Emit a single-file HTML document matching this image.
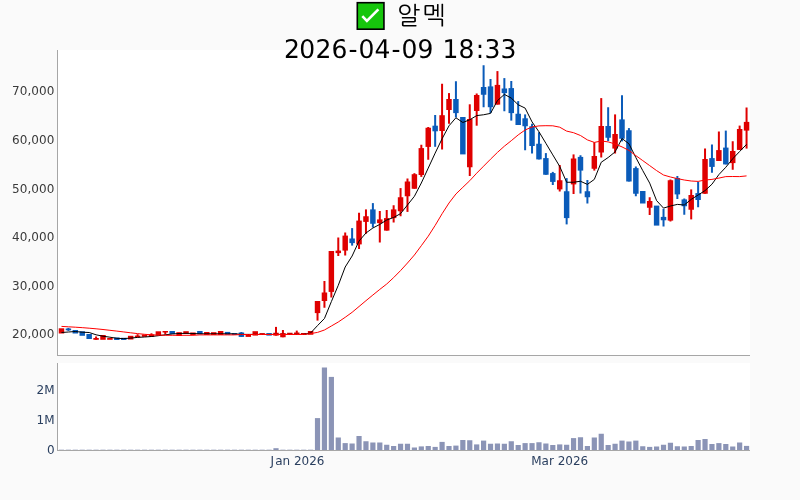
<!DOCTYPE html>
<html lang="ko"><head><meta charset="utf-8"><title>알멕</title>
<style>
html,body{margin:0;padding:0;background:#fafafa;overflow:hidden}
svg{display:block}
text{font-family:"DejaVu Sans","Liberation Sans","Noto Sans CJK KR",sans-serif}
.t{font-size:25px;fill:#000;text-rendering:geometricPrecision}
.k{font-size:24.6px;fill:#000;font-family:"NanumGothic","Noto Sans CJK KR","DejaVu Sans",sans-serif}
.yl{font-size:12px;fill:#3a3a3a;text-anchor:end;letter-spacing:0.12px}
.vl{font-size:12px;fill:#2a3f5f;text-anchor:end}
.xl{font-size:12px;fill:#2a3f5f;text-anchor:middle}
.xs{font-size:12px;fill:#2a3f5f}
</style></head><body>
<svg width="800" height="500" viewBox="0 0 800 500">
<rect width="800" height="500" fill="#fafafa"/>
<rect x="58" y="50" width="692" height="305" fill="#fff"/>
<rect x="58" y="363" width="692" height="87" fill="#fff"/>

<g fill="#8b94b6">
<rect x="58.88" y="449.7" width="5.2" height="0.3"/>
<rect x="65.8" y="449.7" width="5.2" height="0.3"/>
<rect x="72.72" y="449.7" width="5.2" height="0.3"/>
<rect x="79.64" y="449.7" width="5.2" height="0.3"/>
<rect x="86.56" y="449.7" width="5.2" height="0.3"/>
<rect x="93.48" y="449.7" width="5.2" height="0.3"/>
<rect x="100.4" y="449.7" width="5.2" height="0.3"/>
<rect x="107.32" y="449.7" width="5.2" height="0.3"/>
<rect x="114.24" y="449.7" width="5.2" height="0.3"/>
<rect x="121.16" y="449.7" width="5.2" height="0.3"/>
<rect x="128.08" y="449.7" width="5.2" height="0.3"/>
<rect x="135" y="449.7" width="5.2" height="0.3"/>
<rect x="141.92" y="449.7" width="5.2" height="0.3"/>
<rect x="148.84" y="449.7" width="5.2" height="0.3"/>
<rect x="155.76" y="449.7" width="5.2" height="0.3"/>
<rect x="162.68" y="449.7" width="5.2" height="0.3"/>
<rect x="169.6" y="449.7" width="5.2" height="0.3"/>
<rect x="176.52" y="449.7" width="5.2" height="0.3"/>
<rect x="183.44" y="449.7" width="5.2" height="0.3"/>
<rect x="190.36" y="449.7" width="5.2" height="0.3"/>
<rect x="197.28" y="449.7" width="5.2" height="0.3"/>
<rect x="204.2" y="449.7" width="5.2" height="0.3"/>
<rect x="211.12" y="449.7" width="5.2" height="0.3"/>
<rect x="218.04" y="449.7" width="5.2" height="0.3"/>
<rect x="224.96" y="449.7" width="5.2" height="0.3"/>
<rect x="231.88" y="449.7" width="5.2" height="0.3"/>
<rect x="238.8" y="449.7" width="5.2" height="0.3"/>
<rect x="245.72" y="449.7" width="5.2" height="0.3"/>
<rect x="252.64" y="449.7" width="5.2" height="0.3"/>
<rect x="259.56" y="449.7" width="5.2" height="0.3"/>
<rect x="266.48" y="449.7" width="5.2" height="0.3"/>
<rect x="273.4" y="448.2" width="5.2" height="1.8"/>
<rect x="280.32" y="449.7" width="5.2" height="0.3"/>
<rect x="287.24" y="449.7" width="5.2" height="0.3"/>
<rect x="294.16" y="449.7" width="5.2" height="0.3"/>
<rect x="301.08" y="449.7" width="5.2" height="0.3"/>
<rect x="308" y="449.7" width="5.2" height="0.3"/>
<rect x="314.92" y="418.1" width="5.2" height="31.9"/>
<rect x="321.84" y="367.5" width="5.2" height="82.5"/>
<rect x="328.76" y="376.9" width="5.2" height="73.1"/>
<rect x="335.68" y="437.5" width="5.2" height="12.5"/>
<rect x="342.6" y="443.1" width="5.2" height="6.9"/>
<rect x="349.52" y="443.5" width="5.2" height="6.5"/>
<rect x="356.44" y="436" width="5.2" height="14"/>
<rect x="363.36" y="441.25" width="5.2" height="8.75"/>
<rect x="370.28" y="442.5" width="5.2" height="7.5"/>
<rect x="377.2" y="442.5" width="5.2" height="7.5"/>
<rect x="384.12" y="444.75" width="5.2" height="5.25"/>
<rect x="391.04" y="446" width="5.2" height="4"/>
<rect x="397.96" y="443.75" width="5.2" height="6.25"/>
<rect x="404.88" y="443.75" width="5.2" height="6.25"/>
<rect x="411.8" y="447.5" width="5.2" height="2.5"/>
<rect x="418.72" y="446.4" width="5.2" height="3.6"/>
<rect x="425.64" y="446" width="5.2" height="4"/>
<rect x="432.56" y="446.9" width="5.2" height="3.1"/>
<rect x="439.48" y="441.9" width="5.2" height="8.1"/>
<rect x="446.4" y="446" width="5.2" height="4"/>
<rect x="453.32" y="445.6" width="5.2" height="4.4"/>
<rect x="460.24" y="440" width="5.2" height="10"/>
<rect x="467.16" y="440.25" width="5.2" height="9.75"/>
<rect x="474.08" y="444.4" width="5.2" height="5.6"/>
<rect x="481" y="440.6" width="5.2" height="9.4"/>
<rect x="487.92" y="443.75" width="5.2" height="6.25"/>
<rect x="494.84" y="443.5" width="5.2" height="6.5"/>
<rect x="501.76" y="443.75" width="5.2" height="6.25"/>
<rect x="508.68" y="441.25" width="5.2" height="8.75"/>
<rect x="515.6" y="445" width="5.2" height="5"/>
<rect x="522.52" y="443.1" width="5.2" height="6.9"/>
<rect x="529.44" y="443.1" width="5.2" height="6.9"/>
<rect x="536.36" y="442.25" width="5.2" height="7.75"/>
<rect x="543.28" y="443.5" width="5.2" height="6.5"/>
<rect x="550.2" y="445" width="5.2" height="5"/>
<rect x="557.12" y="444.4" width="5.2" height="5.6"/>
<rect x="564.04" y="444.75" width="5.2" height="5.25"/>
<rect x="570.96" y="438.1" width="5.2" height="11.9"/>
<rect x="577.88" y="437.25" width="5.2" height="12.75"/>
<rect x="584.8" y="446" width="5.2" height="4"/>
<rect x="591.72" y="437.5" width="5.2" height="12.5"/>
<rect x="598.64" y="433.75" width="5.2" height="16.25"/>
<rect x="605.56" y="445" width="5.2" height="5"/>
<rect x="612.48" y="443.75" width="5.2" height="6.25"/>
<rect x="619.4" y="440.6" width="5.2" height="9.4"/>
<rect x="626.32" y="441.5" width="5.2" height="8.5"/>
<rect x="633.24" y="440.6" width="5.2" height="9.4"/>
<rect x="640.16" y="446.25" width="5.2" height="3.75"/>
<rect x="647.08" y="446.9" width="5.2" height="3.1"/>
<rect x="654" y="446.5" width="5.2" height="3.5"/>
<rect x="660.92" y="444.75" width="5.2" height="5.25"/>
<rect x="667.84" y="442.75" width="5.2" height="7.25"/>
<rect x="674.76" y="446.25" width="5.2" height="3.75"/>
<rect x="681.68" y="446.5" width="5.2" height="3.5"/>
<rect x="688.6" y="446" width="5.2" height="4"/>
<rect x="695.52" y="440" width="5.2" height="10"/>
<rect x="702.44" y="439" width="5.2" height="11"/>
<rect x="709.36" y="444" width="5.2" height="6"/>
<rect x="716.28" y="443.1" width="5.2" height="6.9"/>
<rect x="723.2" y="444" width="5.2" height="6"/>
<rect x="730.12" y="446.5" width="5.2" height="3.5"/>
<rect x="737.04" y="442.5" width="5.2" height="7.5"/>
<rect x="743.96" y="445.9" width="5.2" height="4.1"/>
</g>
<g fill="#df0000" stroke="none">
<rect x="58.75" y="328.3" width="5.46" height="5.2"/>
<rect x="95.08" y="336.5" width="2" height="3.3"/>
<rect x="93.35" y="338" width="5.46" height="1.8"/>
<rect x="100.27" y="335" width="5.46" height="4.8"/>
<rect x="107.19" y="338" width="5.46" height="1.8"/>
<rect x="127.95" y="335.8" width="5.46" height="3.7"/>
<rect x="136.6" y="334.2" width="2" height="3.1"/>
<rect x="134.87" y="335.6" width="5.46" height="1.7"/>
<rect x="141.79" y="334.5" width="5.46" height="2.3"/>
<rect x="150.44" y="333.3" width="2" height="3.5"/>
<rect x="148.71" y="334.4" width="5.46" height="2.4"/>
<rect x="155.63" y="331.3" width="5.46" height="4.2"/>
<rect x="164.28" y="331" width="2" height="3.5"/>
<rect x="162.55" y="331" width="5.46" height="1.5"/>
<rect x="176.39" y="332.2" width="5.46" height="3.8"/>
<rect x="183.31" y="331.2" width="5.46" height="2.8"/>
<rect x="190.23" y="332.5" width="5.46" height="2.5"/>
<rect x="204.07" y="332" width="5.46" height="3"/>
<rect x="210.99" y="332.2" width="5.46" height="2.8"/>
<rect x="217.91" y="331" width="5.46" height="4"/>
<rect x="245.59" y="334" width="5.46" height="2.9"/>
<rect x="252.51" y="331.2" width="5.46" height="4.4"/>
<rect x="259.43" y="333.1" width="5.46" height="1.9"/>
<rect x="275" y="326.9" width="2" height="8.7"/>
<rect x="273.27" y="332.75" width="5.46" height="2.85"/>
<rect x="281.92" y="330" width="2" height="7.25"/>
<rect x="280.19" y="333.1" width="5.46" height="4.15"/>
<rect x="287.11" y="332.75" width="5.46" height="2"/>
<rect x="295.76" y="330.6" width="2" height="3.8"/>
<rect x="294.03" y="332.5" width="5.46" height="1.9"/>
<rect x="300.95" y="333" width="5.46" height="2"/>
<rect x="307.87" y="331" width="5.46" height="3.75"/>
<rect x="316.52" y="301" width="2" height="19.6"/>
<rect x="314.79" y="301" width="5.46" height="12.1"/>
<rect x="323.44" y="281" width="2" height="26.75"/>
<rect x="321.71" y="292.5" width="5.46" height="8.5"/>
<rect x="330.36" y="251" width="2" height="46.5"/>
<rect x="328.63" y="251" width="5.46" height="40.9"/>
<rect x="337.28" y="237.5" width="2" height="18.5"/>
<rect x="335.55" y="250.6" width="5.46" height="2.5"/>
<rect x="344.2" y="232.5" width="2" height="23"/>
<rect x="342.47" y="235.6" width="5.46" height="15"/>
<rect x="358.04" y="212.75" width="2" height="36.25"/>
<rect x="356.31" y="220.6" width="5.46" height="23.8"/>
<rect x="364.96" y="209.4" width="2" height="24.35"/>
<rect x="363.23" y="216.25" width="5.46" height="5.65"/>
<rect x="378.8" y="211" width="2" height="31.5"/>
<rect x="377.07" y="219.4" width="5.46" height="3.7"/>
<rect x="385.72" y="210" width="2" height="20.6"/>
<rect x="383.99" y="218.1" width="5.46" height="12.5"/>
<rect x="392.64" y="205.25" width="2" height="17.25"/>
<rect x="390.91" y="209.4" width="5.46" height="8.7"/>
<rect x="399.56" y="188.1" width="2" height="28.15"/>
<rect x="397.83" y="197.25" width="5.46" height="14"/>
<rect x="406.48" y="178.5" width="2" height="33.4"/>
<rect x="404.75" y="181.5" width="5.46" height="14.75"/>
<rect x="413.4" y="173.2" width="2" height="15.55"/>
<rect x="411.67" y="174.2" width="5.46" height="14.55"/>
<rect x="420.32" y="144.75" width="2" height="32.15"/>
<rect x="418.59" y="148.1" width="5.46" height="26.9"/>
<rect x="427.24" y="127" width="2" height="32.75"/>
<rect x="425.51" y="127.75" width="5.46" height="19.15"/>
<rect x="441.08" y="83.75" width="2" height="65.75"/>
<rect x="439.35" y="115.2" width="5.46" height="15.8"/>
<rect x="448" y="93.1" width="2" height="30.65"/>
<rect x="446.27" y="99" width="5.46" height="11"/>
<rect x="468.76" y="104.3" width="2" height="71.7"/>
<rect x="467.03" y="119" width="5.46" height="48.25"/>
<rect x="475.68" y="93.5" width="2" height="32.2"/>
<rect x="473.95" y="95" width="5.46" height="16"/>
<rect x="496.44" y="71.1" width="2" height="33.5"/>
<rect x="494.71" y="84.9" width="5.46" height="19.7"/>
<rect x="558.72" y="165" width="2" height="26.5"/>
<rect x="556.99" y="180.25" width="5.46" height="9.15"/>
<rect x="572.56" y="154.4" width="2" height="39.6"/>
<rect x="570.83" y="158.5" width="5.46" height="25.9"/>
<rect x="593.32" y="142.25" width="2" height="28.35"/>
<rect x="591.59" y="156" width="5.46" height="12.75"/>
<rect x="600.24" y="98.1" width="2" height="59.4"/>
<rect x="598.51" y="126" width="5.46" height="26.5"/>
<rect x="614.08" y="114.4" width="2" height="39.1"/>
<rect x="612.35" y="134" width="5.46" height="14.6"/>
<rect x="648.68" y="197.25" width="2" height="17.75"/>
<rect x="646.95" y="201" width="5.46" height="6.75"/>
<rect x="669.44" y="179.5" width="2" height="42"/>
<rect x="667.71" y="180.25" width="5.46" height="40.35"/>
<rect x="690.2" y="189.4" width="2" height="30"/>
<rect x="688.47" y="195" width="5.46" height="14.75"/>
<rect x="704.04" y="148.5" width="2" height="45.25"/>
<rect x="702.31" y="159" width="5.46" height="34.75"/>
<rect x="717.88" y="131.5" width="2" height="29.5"/>
<rect x="716.15" y="150.1" width="5.46" height="10.9"/>
<rect x="731.72" y="141.25" width="2" height="28.5"/>
<rect x="729.99" y="151" width="5.46" height="12.1"/>
<rect x="738.64" y="125.6" width="2" height="24.3"/>
<rect x="736.91" y="129" width="5.46" height="20.9"/>
<rect x="745.56" y="107.5" width="2" height="41.1"/>
<rect x="743.83" y="121.9" width="5.46" height="8.7"/>
</g>
<g fill="#0a5bb9" stroke="none">
<rect x="67.4" y="327.9" width="2" height="3"/>
<rect x="65.67" y="328.5" width="5.46" height="1.8"/>
<rect x="72.59" y="330" width="5.46" height="3.5"/>
<rect x="79.51" y="331.3" width="5.46" height="4.5"/>
<rect x="86.43" y="334" width="5.46" height="5"/>
<rect x="114.11" y="337.5" width="5.46" height="2.5"/>
<rect x="121.03" y="337.8" width="5.46" height="2.2"/>
<rect x="169.47" y="331" width="5.46" height="3"/>
<rect x="197.15" y="331" width="5.46" height="3.2"/>
<rect x="224.83" y="331.9" width="5.46" height="2.9"/>
<rect x="231.75" y="333.1" width="5.46" height="1.9"/>
<rect x="240.4" y="332" width="2" height="4.9"/>
<rect x="238.67" y="332.5" width="5.46" height="4.4"/>
<rect x="266.35" y="333.1" width="5.46" height="2.5"/>
<rect x="351.12" y="228.1" width="2" height="17.5"/>
<rect x="349.39" y="238.5" width="5.46" height="4.6"/>
<rect x="371.88" y="203.1" width="2" height="24.4"/>
<rect x="370.15" y="209.4" width="5.46" height="14.35"/>
<rect x="434.16" y="115" width="2" height="31.8"/>
<rect x="432.43" y="125.7" width="5.46" height="5.6"/>
<rect x="454.92" y="81.25" width="2" height="36.25"/>
<rect x="453.19" y="99" width="5.46" height="14.1"/>
<rect x="460.11" y="117" width="5.46" height="37.4"/>
<rect x="482.6" y="65.25" width="2" height="42"/>
<rect x="480.87" y="87" width="5.46" height="7.75"/>
<rect x="489.52" y="79" width="2" height="34.1"/>
<rect x="487.79" y="86.4" width="5.46" height="20.8"/>
<rect x="503.36" y="78.1" width="2" height="33.15"/>
<rect x="501.63" y="88.5" width="5.46" height="4.6"/>
<rect x="510.28" y="81" width="2" height="39.6"/>
<rect x="508.55" y="88.1" width="5.46" height="25"/>
<rect x="517.2" y="101.1" width="2" height="23.9"/>
<rect x="515.47" y="113.75" width="5.46" height="11.25"/>
<rect x="524.12" y="114.4" width="2" height="35.85"/>
<rect x="522.39" y="118.3" width="5.46" height="7.95"/>
<rect x="531.04" y="123.75" width="2" height="29.75"/>
<rect x="529.31" y="126.25" width="5.46" height="19.75"/>
<rect x="537.96" y="132.25" width="2" height="27.15"/>
<rect x="536.23" y="143.75" width="5.46" height="15.65"/>
<rect x="544.88" y="153.1" width="2" height="21.65"/>
<rect x="543.15" y="158.1" width="5.46" height="16.65"/>
<rect x="551.8" y="171.9" width="2" height="13.1"/>
<rect x="550.07" y="173.1" width="5.46" height="8.8"/>
<rect x="565.64" y="178.1" width="2" height="46.3"/>
<rect x="563.91" y="191.25" width="5.46" height="26.85"/>
<rect x="579.48" y="155.25" width="2" height="38.25"/>
<rect x="577.75" y="156.9" width="5.46" height="13.7"/>
<rect x="586.4" y="180" width="2" height="23.5"/>
<rect x="584.67" y="191.25" width="5.46" height="6"/>
<rect x="607.16" y="107.25" width="2" height="33.75"/>
<rect x="605.43" y="126" width="5.46" height="11.75"/>
<rect x="621" y="95.25" width="2" height="46.15"/>
<rect x="619.27" y="119.4" width="5.46" height="19.35"/>
<rect x="627.92" y="128.1" width="2" height="53.4"/>
<rect x="626.19" y="130.25" width="5.46" height="51.25"/>
<rect x="634.84" y="166.5" width="2" height="29.75"/>
<rect x="633.11" y="168.1" width="5.46" height="25.65"/>
<rect x="640.03" y="191" width="5.46" height="12.5"/>
<rect x="653.87" y="205.6" width="5.46" height="20"/>
<rect x="662.52" y="208.75" width="2" height="17.75"/>
<rect x="660.79" y="216.9" width="5.46" height="3.35"/>
<rect x="676.36" y="176" width="2" height="23"/>
<rect x="674.63" y="178.1" width="5.46" height="16.3"/>
<rect x="683.28" y="198.5" width="2" height="16.25"/>
<rect x="681.55" y="199.4" width="5.46" height="6.85"/>
<rect x="697.12" y="181.9" width="2" height="25.35"/>
<rect x="695.39" y="193.1" width="5.46" height="6.9"/>
<rect x="710.96" y="144.5" width="2" height="28.25"/>
<rect x="709.23" y="158.1" width="5.46" height="8.8"/>
<rect x="724.8" y="130.6" width="2" height="33.8"/>
<rect x="723.07" y="147.6" width="5.46" height="16.8"/>
</g>
<path d="M61.48,332.5 L68.4,332 L75.32,331.5 L82.24,332.2 L89.16,332.5 L96.08,334.8 L103,336.2 L109.92,337.2 L116.84,338.3 L123.76,338.6 L130.68,338.1 L137.6,337.4 L144.52,337 L151.44,336.5 L158.36,335.7 L165.28,334.8 L172.2,334 L179.12,333.5 L186.04,333.3 L192.96,333.5 L199.88,333.8 L206.8,333.8 L213.72,333.8 L220.64,333.8 L227.56,333.8 L234.48,333.8 L241.4,334.4 L248.32,334.4 L255.24,334.4 L262.16,334.4 L269.08,334.4 L276,334.4 L282.92,334.4 L289.84,334.4 L296.76,334.4 L303.68,334.4 L310.6,333 L317.52,325.6 L324.44,318.5 L331.36,301.6 L338.28,285.3 L345.2,267 L352.12,256 L359.04,241 L365.96,233 L372.88,228 L379.8,224.4 L386.72,220 L393.64,217.5 L400.56,213.6 L407.48,205 L414.4,196.3 L421.32,183 L428.24,168.1 L435.16,153.1 L442.08,138.75 L449,125.8 L455.92,117.75 L462.84,122.5 L469.76,119.75 L476.68,115.6 L483.6,114.75 L490.52,113.4 L497.44,100.6 L504.36,94.4 L511.28,98.1 L518.2,104.75 L525.12,108.1 L532.04,121.9 L538.96,131.75 L545.88,143.3 L552.8,154.9 L559.72,166.4 L566.64,182.25 L573.56,182.25 L580.48,181.25 L587.4,184.4 L594.32,179.4 L601.24,162.25 L608.16,157.5 L615.08,151.9 L622,138.5 L628.92,143.75 L635.84,157.5 L642.76,170.6 L649.68,183.1 L656.6,200.6 L663.52,208.1 L670.44,206 L677.36,204.4 L684.28,205 L691.2,199.4 L698.12,195 L705.04,190.6 L711.96,184.2 L718.88,174.6 L725.8,167.25 L732.72,158.75 L739.64,151.5 L746.56,144.4" fill="none" stroke="#000" stroke-width="1"/>
<path d="M61.48,326.4 L68.4,326.8 L75.32,327.2 L82.24,327.65 L89.16,328.2 L96.08,328.8 L103,329.5 L109.92,330.3 L116.84,331.1 L123.76,331.95 L130.68,332.8 L137.6,333.6 L144.52,334.3 L151.44,334.8 L158.36,335.1 L165.28,335.3 L172.2,335.3 L179.12,335.3 L186.04,335.3 L192.96,335.3 L199.88,334.9 L206.8,334.9 L213.72,334.9 L220.64,334.9 L227.56,334.9 L234.48,334.9 L241.4,334.5 L248.32,334.5 L255.24,334.5 L262.16,334.5 L269.08,334.5 L276,334.5 L282.92,334.5 L289.84,334.5 L296.76,334.5 L303.68,334.5 L310.6,333.6 L317.52,332.4 L324.44,330 L331.36,326 L338.28,322 L345.2,317.3 L352.12,312.3 L359.04,306.5 L365.96,300.7 L372.88,295 L379.8,289.4 L386.72,284 L393.64,277.6 L400.56,270.6 L407.48,263 L414.4,255 L421.32,245.7 L428.24,236.2 L435.16,225.4 L442.08,213.75 L449,203 L455.92,194 L462.84,187.3 L469.76,180.7 L476.68,173.2 L483.6,166.2 L490.52,159.2 L497.44,152.4 L504.36,146.2 L511.28,140.7 L518.2,134.9 L525.12,130 L532.04,127 L538.96,125.9 L545.88,125.7 L552.8,125.8 L559.72,127.2 L566.64,131.1 L573.56,132.7 L580.48,135.5 L587.4,139.9 L594.32,142.4 L601.24,141 L608.16,141.9 L615.08,144 L622,146.9 L628.92,150.4 L635.84,155.6 L642.76,160.6 L649.68,165.6 L656.6,170.6 L663.52,175 L670.44,177 L677.36,178.6 L684.28,180 L691.2,181 L698.12,181.4 L705.04,180 L711.96,179.4 L718.88,178.1 L725.8,176.6 L732.72,176.5 L739.64,176.6 L746.56,175.9" fill="none" stroke="#ff0000" stroke-width="1"/>
<g fill="#a6a6a6" shape-rendering="crispEdges">
<rect x="57" y="50" width="1" height="306"/>
<rect x="57" y="355" width="693" height="1"/>
<rect x="57" y="363" width="1" height="88"/>
<rect x="57" y="450" width="693" height="1"/>
</g>
<text class="yl" x="54.6" y="95">70,000</text>
<text class="yl" x="54.6" y="144">60,000</text>
<text class="yl" x="54.6" y="193">50,000</text>
<text class="yl" x="54.6" y="241">40,000</text>
<text class="yl" x="54.6" y="290">30,000</text>
<text class="yl" x="54.6" y="338">20,000</text>
<text class="vl" x="54.6" y="394">2M</text>
<text class="vl" x="54.6" y="424">1M</text>
<text class="vl" x="54.6" y="454">0</text>
<text class="xs" x="270.4 275.15" y="465">Jan 2026</text>
<text class="xl" x="559.7" y="465">Mar 2026</text>
<g role="img" aria-label="✅"><rect x="357.3" y="2.7" width="26.65" height="26.5" fill="#16c60c" stroke="#000" stroke-width="1.6"/><path d="M362.3 16.2 L366.9 20.9 L378.4 9.4" fill="none" stroke="#fff" stroke-width="2.6"/></g>
<text class="k" x="396.9 422.5" y="24.1">알멕</text>
<text class="t" transform="translate(0,57.8) scale(1,1.03)" x="284 299.2 315.6 331.6 348.5 358.6 374.6 391.5 401.6 417.6 433.6 442.6 458.6 475.8 484.6 500.6" y="0">2026-04-09 18:33</text>
</svg>
</body></html>
